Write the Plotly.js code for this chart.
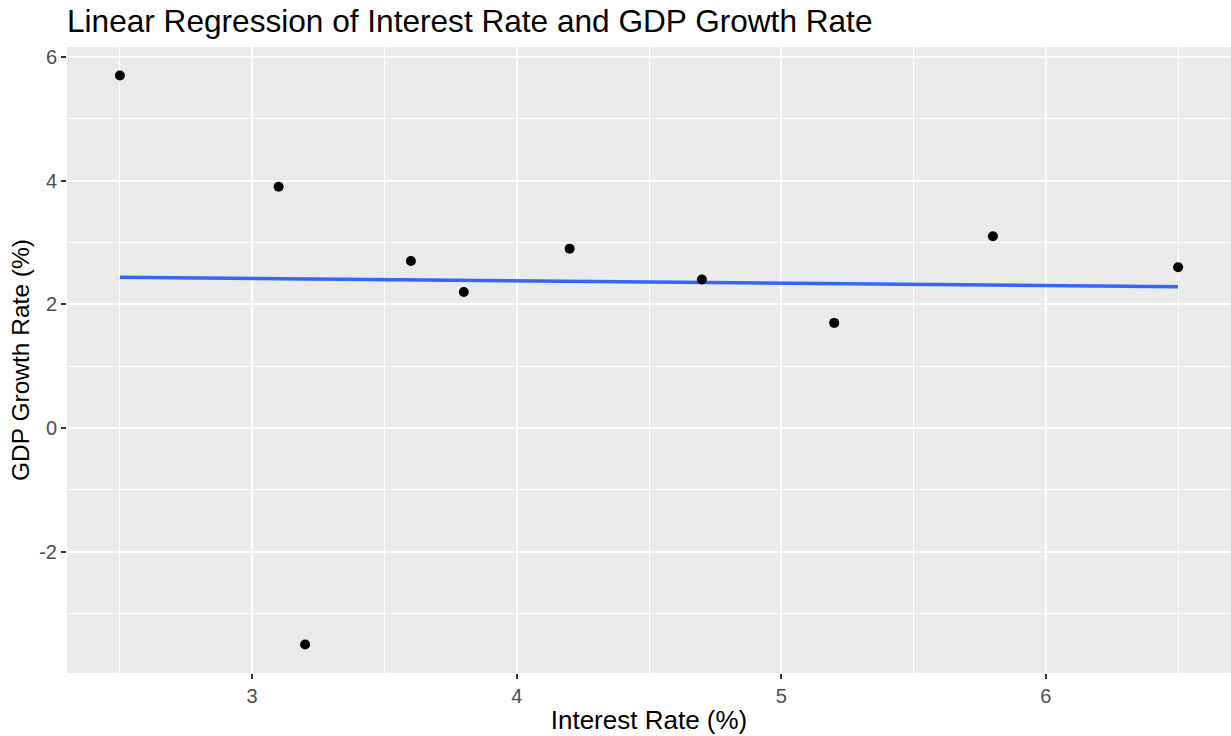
<!DOCTYPE html>
<html>
<head>
<meta charset="utf-8">
<script src="https://cdn.plot.ly/plotly-3.0.1.min.js"></script>
<style>html,body{margin:0;padding:0;background:#fff;}#chart{width:1231px;height:736px;}</style>
</head>
<body>
<div id="chart"></div>
<script>
// Data
const interestRate = [2.5, 3.1, 3.2, 3.6, 3.8, 4.2, 4.7, 5.2, 5.8, 6.5];
const gdpGrowth    = [5.7, 3.9, -3.5, 2.7, 2.2, 2.9, 2.4, 1.7, 3.1, 2.6];
const xTicks = [3, 4, 5, 6];
const yTicks = [-2, 0, 2, 4, 6];

// Least-squares fit computed from the data
const n = interestRate.length;
const mx = interestRate.reduce((a, b) => a + b, 0) / n;
const my = gdpGrowth.reduce((a, b) => a + b, 0) / n;
let sxy = 0, sxx = 0;
for (let i = 0; i < n; i++) {
  sxy += (interestRate[i] - mx) * (gdpGrowth[i] - my);
  sxx += (interestRate[i] - mx) ** 2;
}
const slope = sxy / sxx;
const intercept = my - slope * mx;
const xMin = Math.min(...interestRate), xMax = Math.max(...interestRate);
const fitX = [xMin, xMax];
const fitY = fitX.map(x => intercept + slope * x);

const yMin = Math.min(...gdpGrowth), yMax = Math.max(...gdpGrowth);
const xPad = (xMax - xMin) * 0.05, yPad = (yMax - yMin) * 0.05;

const traces = [
  {x: fitX, y: fitY, mode: 'lines', type: 'scatter',
   line: {color: '#3366FF', width: 3.5}, hoverinfo: 'skip'},
  {x: interestRate, y: gdpGrowth, mode: 'markers', type: 'scatter',
   marker: {color: '#000000', size: 10}}
];

const font = 'Liberation Sans, Arial, sans-serif';
const layout = {
  width: 1231, height: 736,
  margin: {l: 67, r: 0, t: 47, b: 63},
  paper_bgcolor: '#ffffff',
  plot_bgcolor: '#EBEBEB',
  showlegend: false,
  font: {family: font},
  title: {text: 'Linear Regression of Interest Rate and GDP Growth Rate',
          font: {family: font, size: 31.6, color: '#000000'},
          x: 0, xref: 'paper', xanchor: 'left', y: 0.972, yref: 'container', yanchor: 'middle'},
  xaxis: {
    range: [xMin - xPad, xMax + xPad],
    tickvals: xTicks, ticktext: xTicks.map(String),
    showgrid: true, gridcolor: '#FFFFFF', gridwidth: 2,
    zeroline: false, showline: false,
    ticks: 'outside', ticklen: 5, tickwidth: 2, tickcolor: '#333333',
    tickfont: {family: font, size: 20, color: '#4D4D4D'},
    minor: {dtick: 0.5, tick0: 2.5, showgrid: true, gridcolor: '#FFFFFF', gridwidth: 1, ticks: ''},
    title: {text: 'Interest Rate (%)', font: {family: font, size: 26, color: '#000000'}, standoff: 4}
  },
  yaxis: {
    range: [yMin - yPad, yMax + yPad],
    tickvals: yTicks, ticktext: yTicks.map(String),
    showgrid: true, gridcolor: '#FFFFFF', gridwidth: 2,
    zeroline: false, showline: false,
    ticks: 'outside', ticklen: 5, tickwidth: 2, tickcolor: '#333333',
    tickfont: {family: font, size: 20, color: '#4D4D4D'},
    minor: {dtick: 1, tick0: 1, showgrid: true, gridcolor: '#FFFFFF', gridwidth: 1, ticks: ''},
    title: {text: 'GDP Growth Rate (%)', font: {family: font, size: 24.5, color: '#000000'}, standoff: 2}
  }
};

Plotly.newPlot('chart', traces, layout, {displayModeBar: false, staticPlot: true});
</script>
</body>
</html>
